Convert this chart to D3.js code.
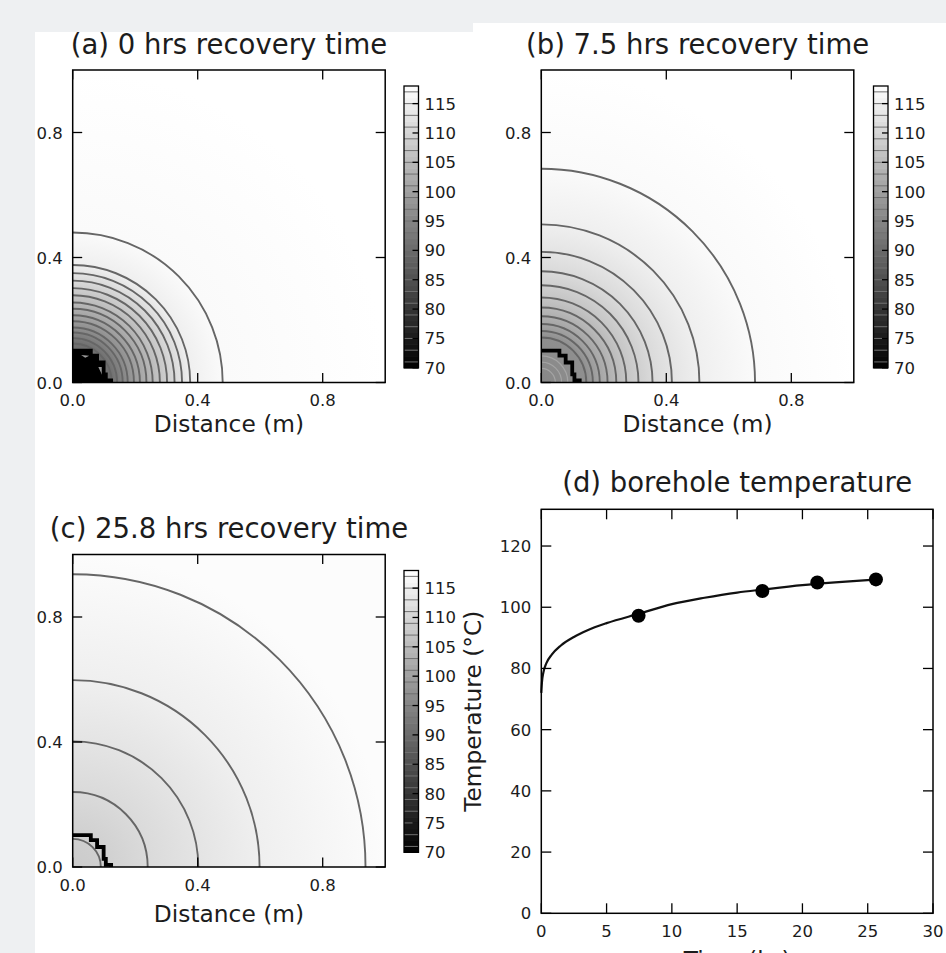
<!DOCTYPE html>
<html>
<head>
<meta charset="utf-8">
<script src="https://cdn.jsdelivr.net/npm/d3@7"></script>
<style>
body { margin: 0; background: #eef0f2; }
svg { display: block; font-family: "DejaVu Sans", sans-serif; }
</style>
</head>
<body>
<svg id="fig" width="946" height="953"></svg>
<script>
// colour range of the temperature maps (degC)
const cbMin = 70;
const cbMax = 118;
const cbTicks = [70, 75, 80, 85, 90, 95, 100, 105, 110, 115];
const cbLineLevels = d3.range(71, 118, 2);

// contour levels and the radius (m) where each line meets the axes
const levelsA = [117, 115, 113, 111, 109, 107, 105, 103, 101, 99, 97, 95, 93, 91];
const radiiA  = [0.48, 0.376, 0.35, 0.326, 0.302, 0.279, 0.256, 0.236, 0.215, 0.196, 0.176, 0.16, 0.142, 0.125];
const levelsB = [117, 115, 113, 111, 109, 107, 105, 103, 101, 99, 97];
const radiiB  = [0.684, 0.506, 0.418, 0.356, 0.311, 0.272, 0.24, 0.212, 0.187, 0.165, 0.144];
const levelsC = [117, 115, 113, 111, 109];
const radiiC  = [0.937, 0.598, 0.402, 0.24, 0.09];

// temperature at the centre and far away for each map
const coreTemp = {a: 89, b: 95.5, c: 108.3};
const farTemp  = {a: 118, b: 118, c: 117.4};

// faint rings inside the borehole in (b)
const innerRingsB = [0.085, 0.065, 0.045];

// mesh outline of the borehole (m)
const wellX = [0, 0.058, 0.058, 0.078, 0.078, 0.099, 0.099, 0.106, 0.106, 0.123, 0.123];
const wellY = [0.102, 0.102, 0.086, 0.086, 0.064, 0.064, 0.026, 0.026, 0.007, 0.007, 0];

// little grey triangles left in the black core of (a)
const coreTris = [
    [[0.027, 0.088], [0.053, 0.086], [0.04, 0.079]],
    [[0.082, 0.05], [0.096, 0.05], [0.094, 0.024]]
];

const distTicks = [0, 0.4, 0.8];

// (d) modelled borehole temperature and the measured points
const curveTime = [0, 0.05, 0.15, 0.4, 0.8, 1.5, 2.5, 3.5, 5, 7.5, 10, 12.5, 15, 17, 20, 22.5, 25.8];
const curveTemp = [72, 75.5, 78.5, 81.8, 84.5, 87.5, 90.3, 92.4, 94.8, 97.9, 101.0, 103.1, 104.8, 105.8, 107.2, 108.1, 109.1];
const obsTime = [7.45, 16.93, 21.14, 25.63];
const obsTemp = [97.2, 105.3, 108.1, 109.1];
const timeTicks = [0, 5, 10, 15, 20, 25, 30];
const tempTicks = [0, 20, 40, 60, 80, 100, 120];

const svg = d3.select("#fig");
const defs = svg.append("defs");

// page background and the white figure
svg.append("rect").attr("width", 946).attr("height", 953).attr("fill", "#eef0f2");
svg.append("rect").attr("x", 35).attr("y", 32).attr("width", 911).attr("height", 921).attr("fill", "#fff");
svg.append("rect").attr("x", 473).attr("y", 23).attr("width", 473).attr("height", 20).attr("fill", "#fff");

const gray = d3.scaleLinear().domain([cbMin, cbMax]).range(["#000", "#fff"]).clamp(true);

const tickFont = 16.5;
const textColor = "#1c1c1c";

function drawFrame(g, x, y, xt, yt, tickLen, fmtX, fmtY) {
    let [x0, x1] = x.range();
    let [y0, y1] = y.range();
    let ticks = g.append("g").attr("stroke", "#000").attr("stroke-width", 1.3);
    xt.forEach(v => {
        ticks.append("line").attr("x1", x(v)).attr("x2", x(v)).attr("y1", y0).attr("y2", y0 - tickLen);
        ticks.append("line").attr("x1", x(v)).attr("x2", x(v)).attr("y1", y1).attr("y2", y1 + tickLen);
    });
    yt.forEach(v => {
        ticks.append("line").attr("x1", x0).attr("x2", x0 + tickLen).attr("y1", y(v)).attr("y2", y(v));
        ticks.append("line").attr("x1", x1).attr("x2", x1 - tickLen).attr("y1", y(v)).attr("y2", y(v));
    });
    g.append("rect")
        .attr("x", x0).attr("y", y1)
        .attr("width", x1 - x0).attr("height", y0 - y1)
        .attr("fill", "none").attr("stroke", "#000").attr("stroke-width", 1.5);

    g.append("g").selectAll("text").data(xt).enter().append("text")
        .attr("x", d => x(d)).attr("y", y0 + 23.5)
        .attr("text-anchor", "middle")
        .attr("font-size", tickFont).attr("fill", textColor)
        .text(fmtX);
    g.append("g").selectAll("text").data(yt).enter().append("text")
        .attr("x", x0 - 10).attr("y", d => y(d) + 6)
        .attr("text-anchor", "end")
        .attr("font-size", tickFont).attr("fill", textColor)
        .text(fmtY);
}

function colorbar(g, left, top, bottom) {
    let w = 14.5;
    let cy = d3.scaleLinear().domain([cbMin, cbMax]).range([bottom, top]);
    let bands = d3.range(cbMin, cbMax, 1);
    g.append("g").selectAll("rect").data(bands).enter().append("rect")
        .attr("x", left).attr("width", w)
        .attr("y", d => cy(d + 1))
        .attr("height", d => cy(d) - cy(d + 1) + 0.6)
        .attr("fill", d => gray(d + 0.5));
    g.append("g").selectAll("line").data(cbLineLevels).enter().append("line")
        .attr("x1", left).attr("x2", left + w)
        .attr("y1", d => cy(d)).attr("y2", d => cy(d))
        .attr("stroke", "#707070").attr("stroke-width", 1);
    g.append("g").selectAll("line").data(cbTicks).enter().append("line")
        .attr("x1", left + w - 6).attr("x2", left + w)
        .attr("y1", d => cy(d)).attr("y2", d => cy(d))
        .attr("stroke", "#000").attr("stroke-width", 1.3);
    g.append("rect").attr("x", left).attr("y", top)
        .attr("width", w).attr("height", bottom - top)
        .attr("fill", "none").attr("stroke", "#000").attr("stroke-width", 1.3);
    g.append("g").selectAll("text").data(cbTicks).enter().append("text")
        .attr("x", left + w + 6).attr("y", d => cy(d) + 6)
        .attr("font-size", tickFont).attr("fill", textColor)
        .text(d => d);
}

function fieldPanel(p) {
    let g = svg.append("g");
    let x = d3.scaleLinear().domain([0, 1]).range([p.left, p.left + p.size]);
    let y = d3.scaleLinear().domain([0, 1]).range([p.top + p.size, p.top]);
    let rpx = r => x(r) - x(0);

    defs.append("clipPath").attr("id", "clip-" + p.id)
        .append("rect").attr("x", x(0)).attr("y", y(1))
        .attr("width", p.size).attr("height", p.size);

    // radial temperature field
    let prof = p.radii.map((r, i) => [r, p.levels[i]]);
    prof.push([0, coreTemp[p.id]]);
    prof.push([1, farTemp[p.id]]);
    prof.sort((a, b) => a[0] - b[0]);
    let reach = 1.42;
    let grad = defs.append("radialGradient").attr("id", "grad-" + p.id)
        .attr("gradientUnits", "userSpaceOnUse")
        .attr("cx", x(0)).attr("cy", y(0)).attr("r", rpx(reach))
        .attr("fx", x(0)).attr("fy", y(0));
    prof.forEach(d => {
        grad.append("stop").attr("offset", d[0] / reach).attr("stop-color", gray(d[1]));
    });

    let field = g.append("g").attr("clip-path", `url(#clip-${p.id})`);
    field.append("rect").attr("x", x(0)).attr("y", y(1))
        .attr("width", p.size).attr("height", p.size)
        .attr("fill", `url(#grad-${p.id})`);

    if (p.innerRings) {
        field.selectAll(".ring").data(p.innerRings).enter().append("circle")
            .attr("cx", x(0)).attr("cy", y(0)).attr("r", d => rpx(d))
            .attr("fill", "none").attr("stroke", "#a4a4a4").attr("stroke-width", 1.2);
    }

    field.selectAll(".cline").data(p.radii).enter().append("circle")
        .attr("cx", x(0)).attr("cy", y(0)).attr("r", d => rpx(d))
        .attr("fill", "none").attr("stroke", "#666").attr("stroke-width", 1.9);

    let well = wellX.map((v, i) => [x(v), y(wellY[i])]);
    if (p.blackCore) {
        let core = well.concat([[x(0), y(0)]]);
        field.append("path").attr("d", d3.line()(core) + "Z").attr("fill", "#000");
        field.selectAll(".tri").data(coreTris).enter().append("path")
            .attr("d", t => d3.line()(t.map(q => [x(q[0]), y(q[1])])) + "Z")
            .attr("fill", "#9a9a9a");
    }
    field.append("path").attr("d", d3.line()(well))
        .attr("fill", "none").attr("stroke", "#000").attr("stroke-width", 3.8)
        .attr("stroke-linejoin", "miter");

    drawFrame(g, x, y, distTicks, distTicks, 9.5, d3.format(".1f"), d3.format(".1f"));

    g.append("text").attr("x", (x(0) + x(1)) / 2).attr("y", p.titleY)
        .attr("text-anchor", "middle").attr("font-size", 27.5).attr("fill", textColor)
        .text(p.title);
    g.append("text").attr("x", (x(0) + x(1)) / 2).attr("y", p.labelY)
        .attr("text-anchor", "middle").attr("font-size", 23.3).attr("fill", textColor)
        .text("Distance (m)");

    colorbar(g, p.cbX, p.top + 16, p.top + 297.8);
}

fieldPanel({id: "a", title: "(a) 0 hrs recovery time", left: 72.7, top: 70, size: 312.5,
    levels: levelsA, radii: radiiA, blackCore: true, titleY: 53.5, labelY: 432, cbX: 404});
fieldPanel({id: "b", title: "(b) 7.5 hrs recovery time", left: 541.3, top: 70, size: 312.5,
    levels: levelsB, radii: radiiB, innerRings: innerRingsB, titleY: 53.5, labelY: 432, cbX: 873.5});
fieldPanel({id: "c", title: "(c) 25.8 hrs recovery time", left: 72.7, top: 554.5, size: 312.5,
    levels: levelsC, radii: radiiC, titleY: 537.5, labelY: 922, cbX: 404});

// (d) borehole temperature against time
(function () {
    let g = svg.append("g");
    let x = d3.scaleLinear().domain([0, 30]).range([541.3, 933]);
    let y = d3.scaleLinear().domain([0, 132]).range([913.3, 509.3]);

    let pts = curveTime.map((t, i) => [x(t), y(curveTemp[i])]);
    g.append("path").attr("d", d3.line().curve(d3.curveMonotoneX)(pts))
        .attr("fill", "none").attr("stroke", "#111").attr("stroke-width", 2.2);

    g.selectAll(".obs").data(obsTime).enter().append("circle")
        .attr("cx", d => x(d)).attr("cy", (d, i) => y(obsTemp[i]))
        .attr("r", 7).attr("fill", "#000");

    drawFrame(g, x, y, timeTicks, tempTicks, 10, d => d, d => d);

    g.append("text").attr("x", (x(0) + x(30)) / 2).attr("y", 491.5)
        .attr("text-anchor", "middle").attr("font-size", 27.5).attr("fill", textColor)
        .text("(d) borehole temperature");
    // the reference crops this label at the bottom edge, only its top shows
    g.append("text").attr("x", (x(0) + x(30)) / 2).attr("y", 968)
        .attr("text-anchor", "middle").attr("font-size", 23.3).attr("fill", textColor)
        .text("Time (hr)");
    g.append("text")
        .attr("transform", `translate(481,${(y(0) + y(132)) / 2}) rotate(-90)`)
        .attr("text-anchor", "middle").attr("font-size", 23.3).attr("fill", textColor)
        .text("Temperature (°C)");
})();
</script>
</body>
</html>
